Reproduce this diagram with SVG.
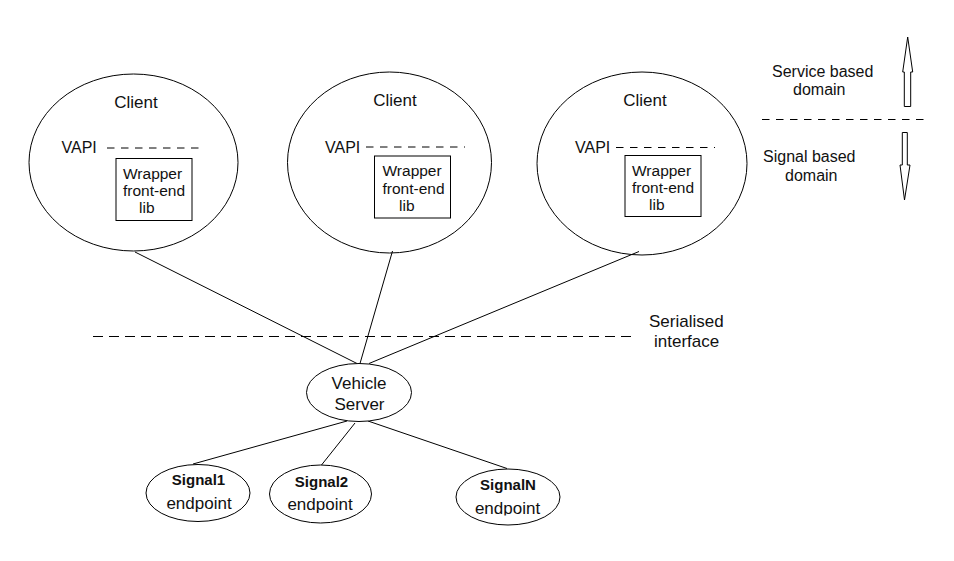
<svg xmlns="http://www.w3.org/2000/svg" width="954" height="561" viewBox="0 0 954 561">
<style>
.sh{fill:none;stroke:#000;stroke-width:1}
.bg{fill:#fff;stroke:#000;stroke-width:1}
.ln{stroke:#000;stroke-width:1;fill:none}
.dash{stroke:#000;stroke-width:1;stroke-dasharray:7.5 6.5;fill:none}
.dash2{stroke:#000;stroke-width:1;stroke-dasharray:10 6;fill:none}
text{font-family:"Liberation Sans",Arial,sans-serif;fill:#111}
.t17{font-size:17px}
.t16{font-size:16px}
.t15{font-size:15.5px}
.b{font-size:15px;font-weight:bold}
.m{text-anchor:middle}
</style>
<defs>
<clipPath id="clipN"><rect x="440" y="440" width="140" height="75.5"/></clipPath>
</defs>
<rect width="954" height="561" fill="#fff"/>

<g id="connectors">
<line class="ln" x1="135" y1="252" x2="357" y2="363.5"/>
<line class="ln" x1="392.5" y1="251" x2="360" y2="363.5"/>
<line class="ln" x1="639" y1="251.5" x2="369" y2="363.5"/>
<line class="ln" x1="347" y1="421" x2="193" y2="464"/>
<line class="ln" x1="355" y1="423" x2="321.5" y2="465"/>
<line class="ln" x1="368" y1="421" x2="507" y2="468.5"/>
</g>

<g id="client1">
<ellipse class="sh" cx="133.5" cy="162.5" rx="104.5" ry="88.5"/>
<text class="t17 m" x="136" y="108">Client</text>
<text class="t16" x="61.5" y="152.5">VAPI</text>
<line class="dash" x1="107" y1="148" x2="205" y2="148"/>
<rect class="sh" x="116" y="158.5" width="76" height="62"/>
<text class="t15" x="123" y="178.5">Wrapper</text>
<text class="t15" x="123" y="196">front-end</text>
<text class="t15" x="139" y="213">lib</text>
</g>

<g id="client2">
<ellipse class="sh" cx="389.5" cy="162.5" rx="102" ry="90.5"/>
<text class="t17 m" x="395" y="106">Client</text>
<text class="t16" x="325" y="152.5">VAPI</text>
<line class="dash" x1="366" y1="147" x2="465" y2="147"/>
<rect class="sh" x="374.5" y="156" width="76" height="62"/>
<text class="t15" x="382.5" y="176">Wrapper</text>
<text class="t15" x="382.5" y="194">front-end</text>
<text class="t15" x="399" y="211">lib</text>
</g>

<g id="client3">
<ellipse class="sh" cx="642" cy="163.5" rx="105" ry="91.5"/>
<text class="t17 m" x="645" y="106">Client</text>
<text class="t16" x="575" y="152.5">VAPI</text>
<line class="dash" x1="616" y1="147.5" x2="715" y2="147.5"/>
<rect class="sh" x="625" y="155.5" width="76" height="61"/>
<text class="t15" x="632" y="175.5">Wrapper</text>
<text class="t15" x="632" y="193">front-end</text>
<text class="t15" x="649" y="210">lib</text>
</g>

<g id="domains">
<text class="t16" x="772" y="77">Service based</text>
<text class="t16" x="793" y="94.5">domain</text>
<polygon class="sh" points="907.7,37 912.7,72 910.7,72 910.7,106.5 904.3,106.5 904.3,72 902.7,72"/>
<line class="dash" x1="762" y1="119.5" x2="925" y2="119.5"/>
<text class="t16" x="763" y="162">Signal based</text>
<text class="t16" x="785" y="181">domain</text>
<polygon class="sh" points="902.3,132.5 907.3,132.5 907.3,165 910,165 904.5,200 900,165 902.3,165"/>
</g>

<g id="serialised">
<line class="dash2" x1="93" y1="336.5" x2="635" y2="336.5"/>
<text class="t17" x="649" y="327">Serialised</text>
<text class="t17" x="654" y="347">interface</text>
</g>

<g id="vehicle-server">
<ellipse class="bg" cx="359" cy="392.5" rx="52.5" ry="29"/>
<text class="t17 m" x="359" y="389">Vehicle</text>
<text class="t17 m" x="359.5" y="410">Server</text>
</g>

<g id="signal1">
<ellipse class="bg" cx="198" cy="493" rx="52" ry="28.5"/>
<text class="b m" x="198.5" y="485">Signal1</text>
<text class="t17 m" x="199" y="508.5">endpoint</text>
</g>

<g id="signal2">
<ellipse class="bg" cx="320.5" cy="494" rx="51" ry="29"/>
<text class="b m" x="321.5" y="487">Signal2</text>
<text class="t17 m" x="320" y="510">endpoint</text>
</g>

<g id="signalN">
<ellipse class="bg" cx="508" cy="497" rx="52" ry="28"/>
<text class="b m" x="508" y="490">SignalN</text>
<text class="t17 m" x="507.5" y="513.5" clip-path="url(#clipN)">endpoint</text>
</g>
</svg>
